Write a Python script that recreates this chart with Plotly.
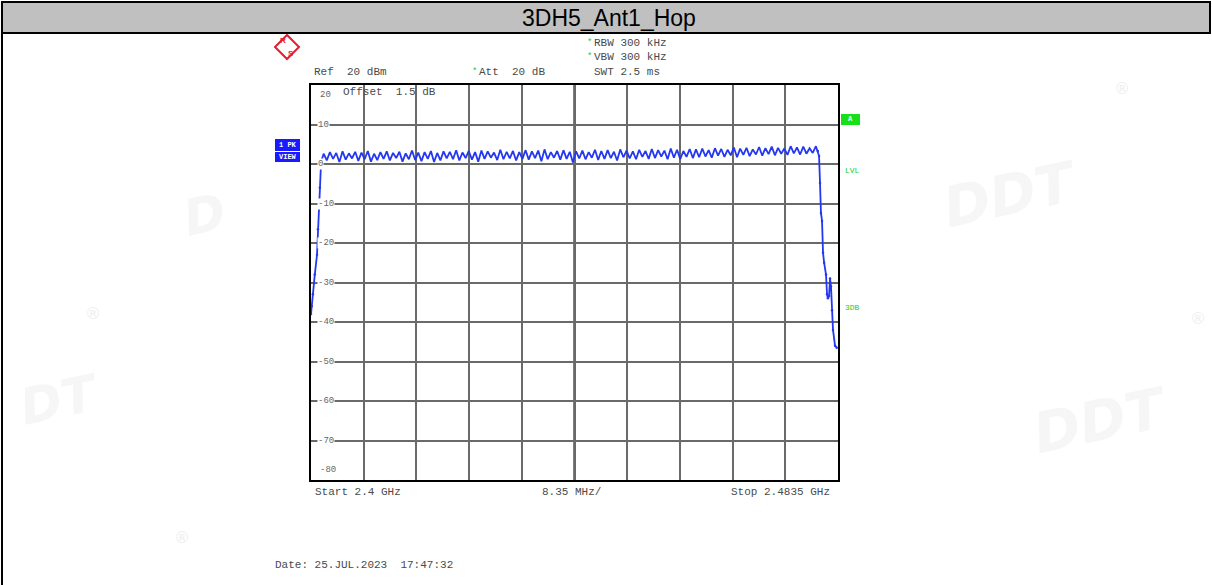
import plotly.graph_objects as go

W, H = 1212, 585

# ---------------- data ----------------
title = "3DH5_Ant1_Hop"
f_start, f_stop = 2400.0, 2483.5        # MHz
y_top, y_bottom = 20, -80               # dBm
span_div = 8.35                          # MHz/div
y_tick_vals = [10, 0, -10, -20, -30, -40, -50, -60, -70]

# rising edge of the hopping band
rise_freq = [2400.0, 2400.1, 2400.3, 2400.6, 2400.95, 2401.1, 2401.4, 2401.6]
rise_level = [-38, -36, -33, -28, -23, -16.5, -6, 0.5]

# per-channel peak levels (2402 ... 2480 MHz, 79 channels)
peak_level = [2.6, 3.0, 2.8, 3.2, 2.7, 3.1, 2.9, 3.3, 2.6, 3.0,
              3.2, 2.8, 3.1, 2.7, 3.4, 2.9, 3.0, 3.3, 2.8, 3.2,
              3.1, 3.5, 2.9, 3.3, 3.0, 3.4, 3.2, 2.9, 3.6, 3.1,
              3.3, 3.0, 3.5, 3.2, 3.4, 3.7, 3.0, 3.3, 3.5, 3.1,
              3.2, 3.4, 3.0, 3.6, 3.3, 3.5, 3.1, 3.7, 3.4, 3.2,
              3.6, 3.3, 3.8, 3.5, 3.4, 3.9, 3.6, 3.3, 3.8, 3.7,
              3.9, 3.5, 4.0, 3.8, 3.6, 4.2, 3.9, 4.1, 3.7, 4.3,
              4.0, 4.4, 4.1, 3.9, 4.5, 4.2, 4.4, 4.0, 4.5]
# levels of the dips between adjacent channels (78 values)
dip_level = [0.9, 1.3, 0.5, 1.1, 1.4, 0.8, 1.2, 0.6, 1.0, 1.3,
             0.9, 1.5, 0.6, 1.2, 1.0, 0.7, 1.3, 0.5, 0.9, 1.4,
             1.2, 0.9, 1.5, 1.1, 0.6, 1.3, 1.6, 1.0, 1.2, 1.4,
             0.9, 1.3, 1.1, 1.5, 0.7, 1.2, 1.6, 1.1, 1.3, 0.4,
             1.4, 1.2, 1.6, 1.0, 1.3, 1.5, 0.9, 1.7, 1.4, 1.2,
             1.8, 1.3, 1.5, 1.9, 1.2, 1.6, 1.2, 1.8, 1.5, 1.7,
             1.9, 1.6, 2.1, 1.8, 2.2, 1.7, 2.3, 2.0, 2.4, 2.1,
             2.5, 2.2, 2.6, 2.3, 2.7, 2.4, 2.6, 2.8]
first_channel = 2402.0

# falling edge
fall_freq = [2480.3, 2480.5, 2480.65, 2480.8, 2480.97, 2481.13, 2481.3, 2481.6,
             2481.76, 2481.9, 2482.08, 2482.24, 2482.39, 2482.55, 2482.71, 2483.03, 2483.3]
fall_level = [3.3, 2.0, -4.8, -12.4, -14.4, -22.5, -25, -28,
              -33, -34, -33.4, -29, -31, -37, -42, -46, -46.5]

# ---------------- build trace ----------------
freq, level = list(rise_freq), list(rise_level)
for k, p in enumerate(peak_level):
    freq.append(first_channel + k)
    level.append(p)
    if k < len(dip_level):
        freq.append(first_channel + k + 0.5)
        level.append(dip_level[k])
freq += fall_freq
level += fall_level


def px(x):
    return x / W


def py(y):
    return 1 - y / H


fig = go.Figure()
fig.add_trace(go.Scatter(x=freq, y=level, mode="lines",
                         line=dict(color="#2438f0", width=1.8), hoverinfo="skip",
                         showlegend=False))
# sweep point dots on the steep edges
fig.add_trace(go.Scatter(x=rise_freq + fall_freq, y=rise_level + fall_level, mode="markers",
                         marker=dict(color="#2438f0", size=2.5), hoverinfo="skip",
                         showlegend=False))

grid_col = "#6a6a6a"
fig.update_xaxes(range=[f_start, f_stop], domain=[px(311), px(838)],
                 tick0=f_start, dtick=span_div, showgrid=True, gridcolor=grid_col, gridwidth=2,
                 showticklabels=False, ticks="", zeroline=False,
                 showline=True, mirror=True, linecolor="black", linewidth=2)
fig.update_yaxes(range=[y_bottom, y_top], domain=[py(480), py(85)],
                 tick0=0, dtick=10, showgrid=True, gridcolor=grid_col, gridwidth=2,
                 showticklabels=False, ticks="", zeroline=False,
                 showline=True, mirror=True, linecolor="black", linewidth=2)

shapes = []
# centre line
shapes.append(dict(type="line", xref="x", yref="y", x0=(f_start + f_stop) / 2, x1=(f_start + f_stop) / 2,
                   y0=y_bottom, y1=y_top, line=dict(color="black", width=2), layer="below"))
# title bar
shapes.append(dict(type="rect", xref="paper", yref="paper", x0=px(2), x1=px(1210),
                   y0=py(33), y1=py(2), fillcolor="#c0c0c0", line=dict(color="black", width=2)))
# left frame line
shapes.append(dict(type="line", xref="paper", yref="paper", x0=px(2), x1=px(2),
                   y0=0, y1=py(33), line=dict(color="black", width=2)))
# R&S logo diamond
cx, cy, r = 287, 47, 12
shapes.append(dict(type="path", xref="paper", yref="paper",
                   path=f"M {px(cx)} {py(cy - r)} L {px(cx + r)} {py(cy)} L {px(cx)} {py(cy + r)} L {px(cx - r)} {py(cy)} Z",
                   line=dict(color="#e02030", width=2), fillcolor="white"))
# blue 1PK / VIEW boxes
shapes.append(dict(type="rect", xref="paper", yref="paper", x0=px(275), x1=px(300),
                   y0=py(151), y1=py(139), fillcolor="#1a1aff", line=dict(width=0)))
shapes.append(dict(type="rect", xref="paper", yref="paper", x0=px(275), x1=px(300),
                   y0=py(162), y1=py(152), fillcolor="#1a1aff", line=dict(width=0)))
# green A box
shapes.append(dict(type="rect", xref="paper", yref="paper", x0=px(841), x1=px(860),
                   y0=py(125), y1=py(114), fillcolor="#18e018", line=dict(width=0)))

ann = []
mono = "Liberation Mono"
tcol = "#4a4a4a"


def txt(x, y, s, size=11, color=tcol, anchor="left", family=mono, **kw):
    ann.append(dict(x=px(x), y=py(y), xref="paper", yref="paper", text=s, showarrow=False,
                    xanchor=anchor, yanchor="middle", font=dict(family=family, size=size, color=color), **kw))


# title
ann.append(dict(x=px(609), y=py(18), xref="paper", yref="paper", text=title, showarrow=False,
                xanchor="center", yanchor="middle",
                font=dict(family="Liberation Sans", size=23, color="black")))

# watermarks (very faint)
for (wx, wy, s, sz) in [(1010, 195, "DDT", 56), (1100, 420, "DDT", 56), (60, 400, "DT", 50),
                        (205, 215, "D", 50)]:
    ann.append(dict(x=px(wx), y=py(wy), xref="paper", yref="paper", text=f"<b><i>{s}</i></b>",
                    showarrow=False, xanchor="center", yanchor="middle", textangle=-12,
                    font=dict(family="DejaVu Sans", size=sz, color="#f6f6f6")))
for (wx, wy) in [(1122, 88), (1198, 318), (93, 313), (182, 537)]:
    txt(wx, wy, "®", size=16, color="#efefef", anchor="center", family="DejaVu Sans")

# R&S letters
txt(283, 41, "<b>R</b>", size=8, color="#e02030", anchor="center", family="Liberation Sans")
txt(291, 53, "<b>S</b>", size=8, color="#e02030", anchor="center", family="Liberation Sans")

# header settings
txt(312, 72, "Ref  20 dBm")
txt(470, 72, "*", size=9, color="#22cc22")
txt(477, 72, "Att  20 dB")
txt(585, 43, "*", size=9, color="#22cc22")
txt(592, 43, "RBW 300 kHz")
txt(585, 57, "*", size=9, color="#22cc22")
txt(592, 57, "VBW 300 kHz")
txt(592, 72, "SWT 2.5 ms")
txt(341, 92, "Offset  1.5 dB")

# y labels inside the grid
for v in y_tick_vals:
    ann.append(dict(x=px(317), y=v, xref="paper", yref="y", text=str(v), showarrow=False,
                    xanchor="left", yanchor="middle", bgcolor="white", borderpad=0,
                    font=dict(family=mono, size=9, color="#666666")))
ann.append(dict(x=px(318), y=y_top, xref="paper", yref="y", text=str(y_top), showarrow=False,
                xanchor="left", yanchor="top", yshift=-3,
                font=dict(family=mono, size=9, color="#666666")))
ann.append(dict(x=px(318), y=y_bottom, xref="paper", yref="y", text=str(y_bottom), showarrow=False,
                xanchor="left", yanchor="bottom", yshift=3,
                font=dict(family=mono, size=9, color="#666666")))

# side labels
txt(287.5, 145, "<b>1 PK</b>", size=7, color="white", anchor="center")
txt(287.5, 157, "<b>VIEW</b>", size=7, color="white", anchor="center")
txt(850.5, 119.5, "<b>A</b>", size=7, color="white", anchor="center")
txt(843, 170, "LVL", size=8, color="#22cc22")
txt(843, 307, "3DB", size=8, color="#22cc22")

# footer
txt(313, 492, "Start 2.4 GHz")
txt(571, 492, "8.35 MHz/", anchor="center")
txt(832, 492, "Stop 2.4835 GHz", anchor="right")
txt(273, 565, "Date: 25.JUL.2023  17:47:32")

fig.update_layout(width=W, height=H, margin=dict(l=0, r=0, t=0, b=0),
                  paper_bgcolor="white", plot_bgcolor="white",
                  shapes=shapes, annotations=ann, showlegend=False)

fig.write_html("out.html", config={"displayModeBar": False},
               post_script="document.body.style.margin='0';document.body.style.overflow='hidden';")
